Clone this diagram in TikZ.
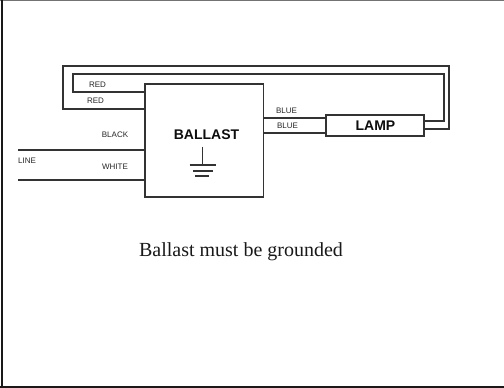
\documentclass[tikz,border=0pt]{standalone}
\usepackage{fontspec}
\setmainfont{Liberation Sans}
\newfontfamily\capfont{Liberation Serif}
\begin{document}
\begin{tikzpicture}[x=1pt,y=-1pt,
  wire/.style={draw=black!80,line width=1.7pt,line join=miter},
  boxed/.style={draw=black!80,line width=1.7pt,fill=white,inner sep=0pt,minimum width=#1},
  small/.style={inner sep=0pt,text=black!85,font=\fontsize{8}{9}\selectfont},
  big/.style={inner sep=0pt,text=black!95,font=\fontsize{14}{16}\selectfont\bfseries}]
\useasboundingbox (0,0) rectangle (504,388);
\fill[white] (0,0) rectangle (504,388);
% frame
\draw[black!55,line width=0.8pt] (0,0.3) -- (504,0.3);
\draw[black!90,line width=2pt] (1.5,0) -- (1.5,388);
\draw[black!90,line width=2pt] (0,387) -- (504,387);
% nodes
\node[boxed=118.5pt,minimum height=112.4pt] (ballast) at (204.25,140.5) {};
\node[boxed=97.4pt,minimum height=21.6pt] (lamp) at (375,125.5) {};
\node[big] (ballastlabel) at (206.5,134.5) {BALLAST};
\node[big] (lamplabel) at (375.5,125.5) {LAMP};
% connector ends
\coordinate (outerB) at (ballast.west |- 0,108.7);
\coordinate (innerB) at (ballast.west |- 0,92.3);
\coordinate (blackB) at (ballast.west |- 0,150);
\coordinate (whiteB) at (ballast.west |- 0,180.3);
\coordinate (blackL) at (18,150);
\coordinate (whiteL) at (18,180.3);
\coordinate (blueAB) at (ballast.east |- 0,117.7);
\coordinate (blueBB) at (ballast.east |- 0,132.7);
\coordinate (blueAL) at (lamp.west |- 0,117.7);
\coordinate (blueBL) at (lamp.west |- 0,132.7);
\coordinate (innerL) at (lamp.east |- 0,120.7);
\coordinate (outerL) at (lamp.east |- 0,129);
% wires
\draw[wire] (outerB) -- (63,108.7) -- (63,65.7) -- (449.3,65.7) -- (449.3,129) -- (outerL);
\draw[wire] (innerB) -- (73,92.3) -- (73,74) -- (444.3,74) -- (444.3,120.7) -- (innerL);
\draw[wire] (blackL) -- (blackB);
\draw[wire] (whiteL) -- (whiteB);
\draw[wire] (blueAB) -- (blueAL);
\draw[wire] (blueBB) -- (blueBL);
% ground symbol
\draw[wire] (202.5,146.7) -- (202.5,165);
\draw[wire] (189.5,165) -- (216,165);
\draw[wire] (193,170.7) -- (212.5,170.7);
\draw[wire] (195,176) -- (209,176);
% labels
\node[small] (l1) at (97.5,84.3) {RED};
\node[small] (l2) at (95.5,101) {RED};
\node[small] (l3) at (115,135) {BLACK};
\node[small] (l4) at (115,167) {WHITE};
\node[small] (l5) at (27,160.5) {LINE};
\node[small] (l6) at (286.5,111) {BLUE};
\node[small] (l7) at (287.5,126) {BLUE};
\node[inner sep=0pt,text=black!90,font=\capfont\fontsize{20}{22}\selectfont] (cap) at (241,252) {Ballast must be grounded};
\end{tikzpicture}
\end{document}
